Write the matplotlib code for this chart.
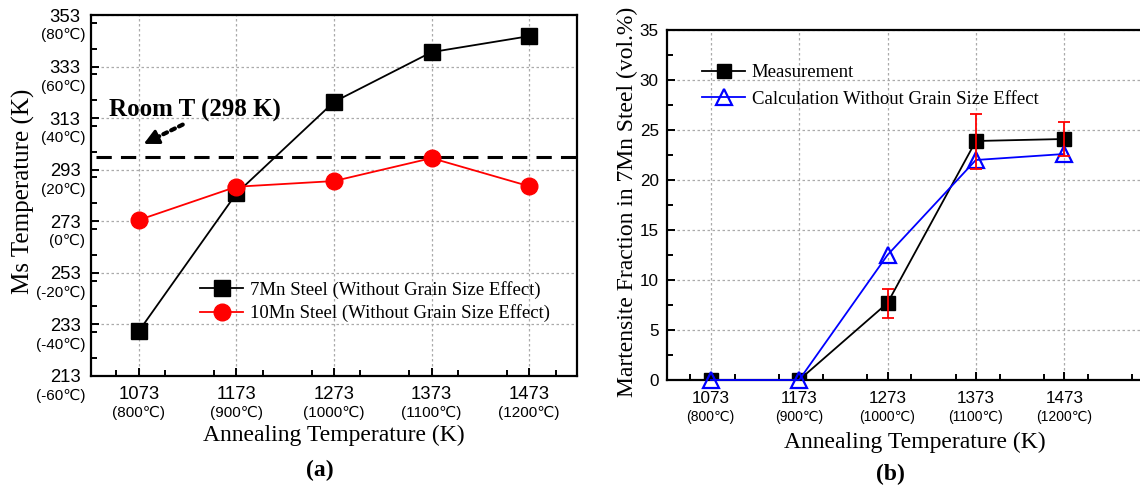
import numpy as np
import matplotlib
matplotlib.use("Agg")
import matplotlib.pyplot as plt
from matplotlib.ticker import MultipleLocator

# annealing temperatures (K) and celsius labels
anneal_K = [1073, 1173, 1273, 1373, 1473]
anneal_C = ["(800℃)", "(900℃)", "(1000℃)", "(1100℃)", "(1200℃)"]

# panel (a): Ms temperature (K)
ms_7mn = [230.4, 283.8, 319.3, 338.6, 344.8]
ms_10mn = [273.5, 286.4, 288.6, 297.5, 286.6]
room_T = 298
ms_ticks = [213, 233, 253, 273, 293, 313, 333, 353]
ms_ticks_C = ["(-60℃)", "(-40℃)", "(-20℃)", "(0℃)", "(20℃)", "(40℃)", "(60℃)", "(80℃)"]

# panel (b): martensite fraction (vol.%)
frac_meas = [0.0, 0.0, 7.7, 23.9, 24.1]
frac_err = [0.0, 0.0, 1.45, 2.75, 1.7]
frac_calc = [0.0, 0.0, 12.5, 22.0, 22.6]

serif = ["Liberation Serif", "DejaVu Serif"]
sans = ["Liberation Sans", "DejaVu Sans"]

fig = plt.figure(figsize=(11.4, 4.91), dpi=100)
ax1 = fig.add_axes([91/1140, 1-376/491, (577-91)/1140, (376-15)/491])
ax2 = fig.add_axes([667/1140, 1-380/491, 1.02-667/1140, (380-30)/491])

def style(ax, size):
    for s in ax.spines.values():
        s.set_linewidth(1.6)
    ax.tick_params(which="both", direction="in", width=1.4, labelsize=size)
    ax.tick_params(which="major", length=6)
    ax.tick_params(which="minor", length=4)
    ax.grid(True, which="major", color="#aaaaaa", linestyle=(0, (2, 2)), linewidth=0.9)
    ax.set_axisbelow(True)
    for lab in ax.get_xticklabels() + ax.get_yticklabels():
        lab.set_family(sans)

def dotted_arrow(ax, tip, tail):
    # dotted shaft + solid head
    ax.annotate("", xy=tip, xytext=tail,
                arrowprops=dict(arrowstyle="-", linestyle=(0, (1, 1.1)), lw=3,
                                color="black", shrinkA=0, shrinkB=6))
    mid = (tip[0] + (tail[0] - tip[0]) * 0.3, tip[1] + (tail[1] - tip[1]) * 0.3)
    ax.annotate("", xy=tip, xytext=mid,
                arrowprops=dict(arrowstyle="-|>,head_length=0.9,head_width=0.45",
                                lw=2.2, color="black", shrinkA=0, shrinkB=0))

# ---------- (a) ----------
ax1.plot(anneal_K, ms_7mn, color="black", lw=1.3, marker="s", ms=11,
         label="7Mn Steel (Without Grain Size Effect)", zorder=3)
ax1.plot(anneal_K, ms_10mn, color="red", lw=1.3, marker="o", ms=12,
         label="10Mn Steel (Without Grain Size Effect)", zorder=4)
ax1.axhline(room_T, xmin=0.01, xmax=1, color="black", lw=2.2, linestyle=(0, (5, 3)), zorder=2)
ax1.set_xlim(1024, 1522)
ax1.set_ylim(213, 353)
ax1.set_xticks(anneal_K)
ax1.xaxis.set_minor_locator(MultipleLocator(50))
ax1.set_yticks(ms_ticks)
ax1.yaxis.set_minor_locator(MultipleLocator(10))
style(ax1, 13.3)
ax1.tick_params(axis="x", pad=7)
ax1.tick_params(axis="y", pad=7.5)

for k, c in zip(anneal_K, anneal_C):
    ax1.annotate(c, xy=(k, 0), xycoords=("data", "axes fraction"),
                 xytext=(0, -26.5), textcoords="offset points",
                 ha="center", va="center", fontsize=11, family=sans)
for k, c in zip(ms_ticks, ms_ticks_C):
    ax1.annotate(c, xy=(0, k), xycoords=("axes fraction", "data"),
                 xytext=(-4, -14.5), textcoords="offset points",
                 ha="right", va="center", fontsize=11, family=sans)

ax1.set_xlabel("Annealing Temperature (K)", family=serif, fontsize=17)
ax1.xaxis.set_label_coords(0.5, -0.136)
ax1.set_ylabel("Ms Temperature (K)", family=serif, fontsize=18)
ax1.yaxis.set_label_coords(-0.116, 0.511)

ax1.text(1130, 315.8, "Room T (298 K)", family=serif, fontsize=18, fontweight="bold",
         ha="center", va="center")
dotted_arrow(ax1, (1078, 303.0), (1118, 310.5))

ax1.legend(loc="upper left", bbox_to_anchor=((200-91)/486, (376-281)/361),
           frameon=False, prop={"family": serif, "size": 13.5},
           borderpad=0, borderaxespad=0, handlelength=2.3, handletextpad=0.35,
           labelspacing=0.3)

fig.text(320/1140, 1-470/491, "(a)", family=serif, fontsize=17, fontweight="bold",
         ha="center", va="center")

# ---------- (b) ----------
ax2.errorbar(anneal_K[2:], frac_meas[2:], yerr=frac_err[2:], fmt="none",
             ecolor="red", elinewidth=1.3, capsize=4, capthick=1.3, zorder=5)
ax2.plot(anneal_K, frac_meas, color="black", lw=1.3, marker="s", ms=10,
         label="Measurement", zorder=3)
ax2.plot(anneal_K, frac_calc, color="blue", lw=1.3, marker="^", ms=11,
         markerfacecolor="none", markeredgewidth=1.6, label="Calculation Without Grain Size Effect",
         zorder=4, clip_on=False)
ax2.set_xlim(1023.5, 1584.5)
ax2.set_ylim(0, 35)
ax2.set_xticks(anneal_K)
ax2.xaxis.set_minor_locator(MultipleLocator(50))
ax2.yaxis.set_major_locator(MultipleLocator(5))
ax2.yaxis.set_minor_locator(MultipleLocator(2.5))
style(ax2, 12.3)
ax2.tick_params(axis="x", pad=8)
ax2.tick_params(axis="y", pad=6)

for k, c in zip(anneal_K, anneal_C):
    ax2.annotate(c, xy=(k, 0), xycoords=("data", "axes fraction"),
                 xytext=(0, -26.5), textcoords="offset points",
                 ha="center", va="center", fontsize=10, family=sans)

ax2.set_xlabel("Annealing Temperature (K)", family=serif, fontsize=17)
ax2.xaxis.set_label_coords(0.5, -0.148)
ax2.set_ylabel("Martensite Fraction in 7Mn Steel (vol.%)", family=serif, fontsize=17)
ax2.yaxis.set_label_coords(-0.059, 0.509)

ax2.legend(loc="upper left", bbox_to_anchor=((702-667)/495.8, (380-64)/350),
           frameon=False, prop={"family": serif, "size": 13.5},
           borderpad=0, borderaxespad=0, handlelength=2.3, handletextpad=0.35,
           labelspacing=0.5)

fig.text(890/1140, 1-474/491, "(b)", family=serif, fontsize=17, fontweight="bold",
         ha="center", va="center")

fig.savefig("out.png", dpi=100)
